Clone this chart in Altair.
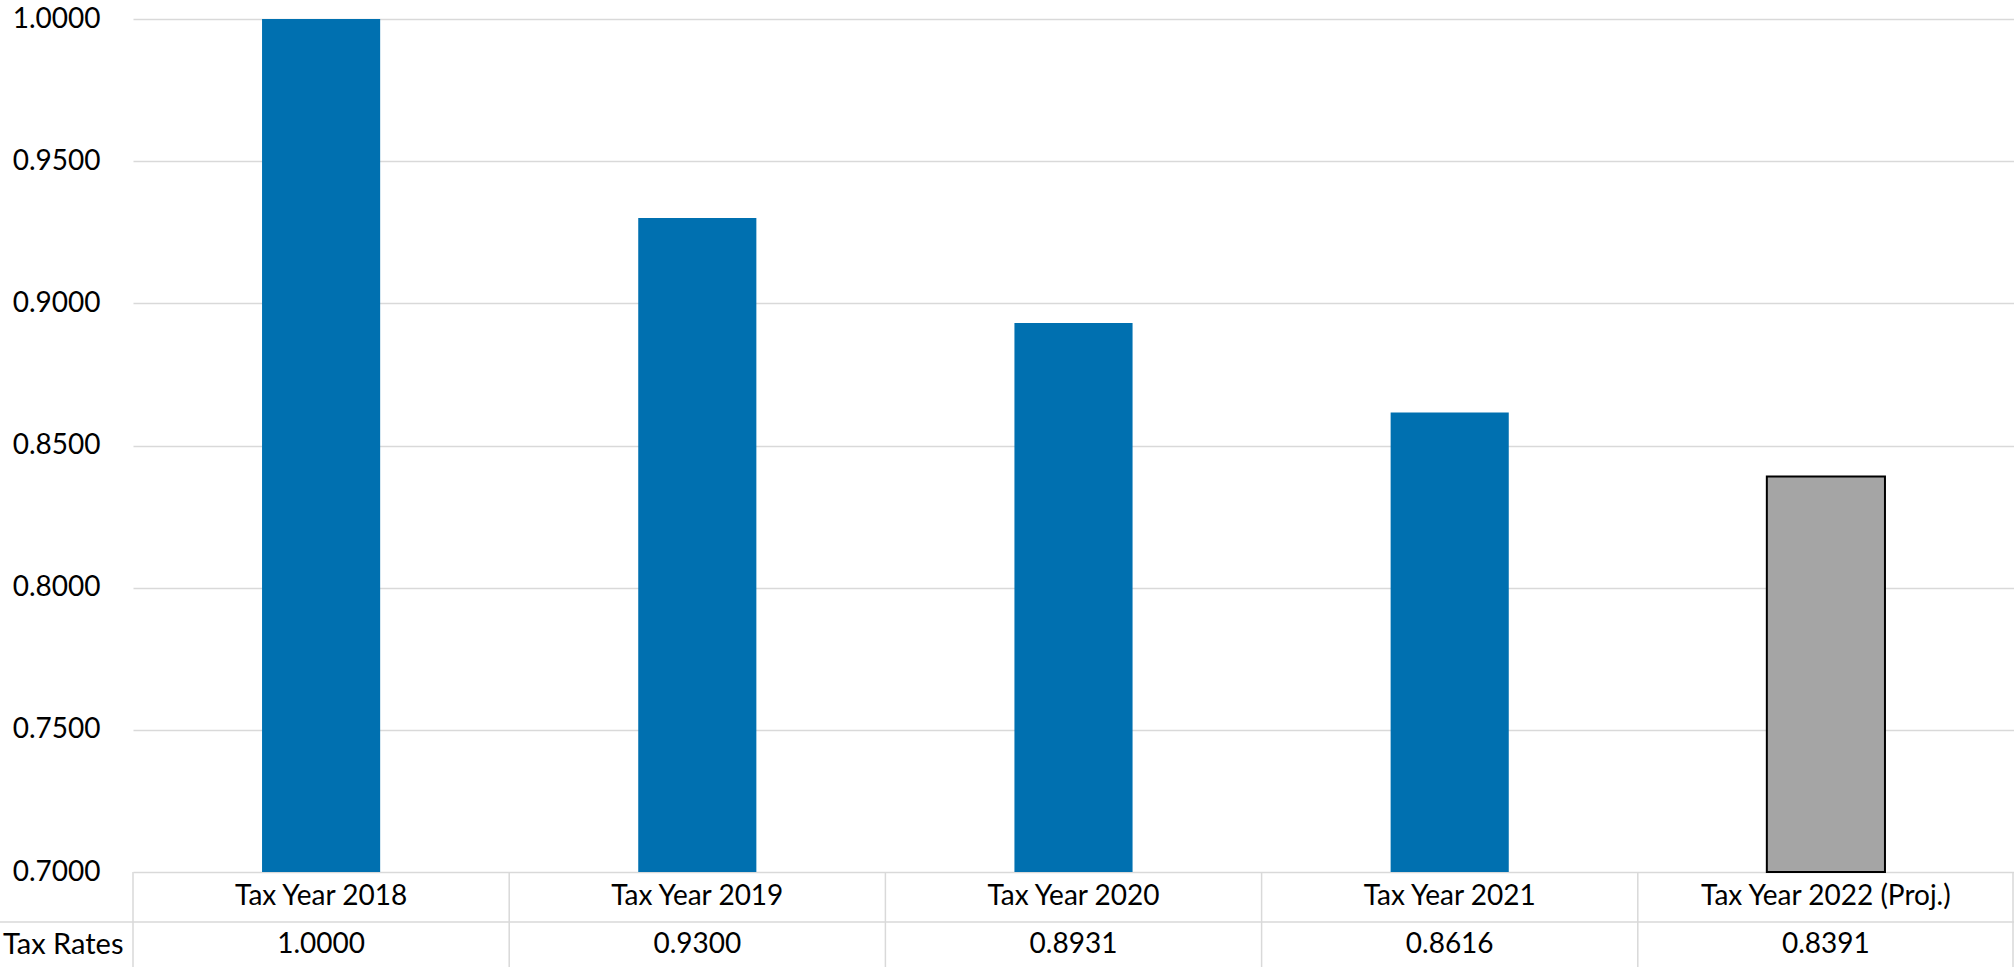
import altair as alt
import pandas as pd

categories = ["Tax Year 2018", "Tax Year 2019", "Tax Year 2020", "Tax Year 2021", "Tax Year 2022 (Proj.)"]
values = [1.0000, 0.9300, 0.8931, 0.8616, 0.8391]
value_labels = ["1.0000", "0.9300", "0.8931", "0.8616", "0.8391"]
kinds = ["actual", "actual", "actual", "actual", "projected"]
y_ticks = [0.70, 0.75, 0.80, 0.85, 0.90, 0.95, 1.00]
row_header = ["Tax Rates"]

df = pd.DataFrame({"category": categories, "value": values, "label": value_labels, "kind": kinds})

W = 1881
H = 853
FONT = "Lato"
FS = 28
GRID = "#D9D9D9"

xscale = alt.Scale(type="band", paddingInner=0, paddingOuter=0)


def xenc(**kw):
    return alt.X("category:N", sort=categories, scale=xscale, axis=None, **kw)


bars = alt.Chart(df).mark_bar(width=alt.RelativeBandSize(band=0.314), strokeWidth=2).encode(
    x=xenc(),
    y=alt.Y(
        "value:Q",
        scale=alt.Scale(domain=[0.7, 1.0], zero=False, nice=False),
        axis=alt.Axis(
            values=y_ticks, format=".4f", grid=True, gridColor=GRID, gridWidth=1.5,
            domain=False, ticks=False, labelPadding=33, labelFontSize=FS, labelFont=FONT,
            labelColor="black", title=None,
        ),
    ),
    y2=alt.datum(0.7),
    color=alt.Color("kind:N", scale=alt.Scale(domain=["actual", "projected"], range=["#0070B0", "#A5A5A5"]), legend=None),
    stroke=alt.Stroke("kind:N", scale=alt.Scale(domain=["actual", "projected"], range=["transparent", "#000000"]), legend=None),
)

row1 = alt.Chart(df).mark_text(fontSize=FS, font=FONT, color="black", baseline="middle").encode(
    x=xenc(), y=alt.value(878), text="category:N"
)
row2 = alt.Chart(df).mark_text(fontSize=FS, font=FONT, color="black", baseline="middle").encode(
    x=xenc(), y=alt.value(926), text="label:N"
)
header = alt.Chart(pd.DataFrame({"t": row_header})).mark_text(
    fontSize=29, font=FONT, color="black", baseline="middle", align="left"
).encode(x=alt.value(-130), y=alt.value(926), text="t:N")

vlines = alt.Chart(df).mark_rule(color=GRID, strokeWidth=1.5).encode(
    x=xenc(bandPosition=0), y=alt.value(H), y2=alt.value(H + 100)
)
right_edge = alt.Chart(pd.DataFrame({"t": row_header})).mark_rule(color=GRID, strokeWidth=1.5).encode(
    x=alt.value(W - 1), y=alt.value(H), y2=alt.value(H + 100)
)
hline = alt.Chart(pd.DataFrame({"t": row_header})).mark_rule(color=GRID, strokeWidth=1.5).encode(
    x=alt.value(-133), x2=alt.value(W), y=alt.value(H + 50)
)

chart = alt.layer(bars, vlines, right_edge, hline, row1, row2, header).properties(
    width=W, height=H,
    autosize=alt.AutoSizeParams(type="none"),
    padding={"left": 133, "top": 19, "right": 0, "bottom": 95},
    background="white",
).configure_view(strokeWidth=0)

chart.save("out.html", embed_options={"renderer": "svg", "actions": False})
